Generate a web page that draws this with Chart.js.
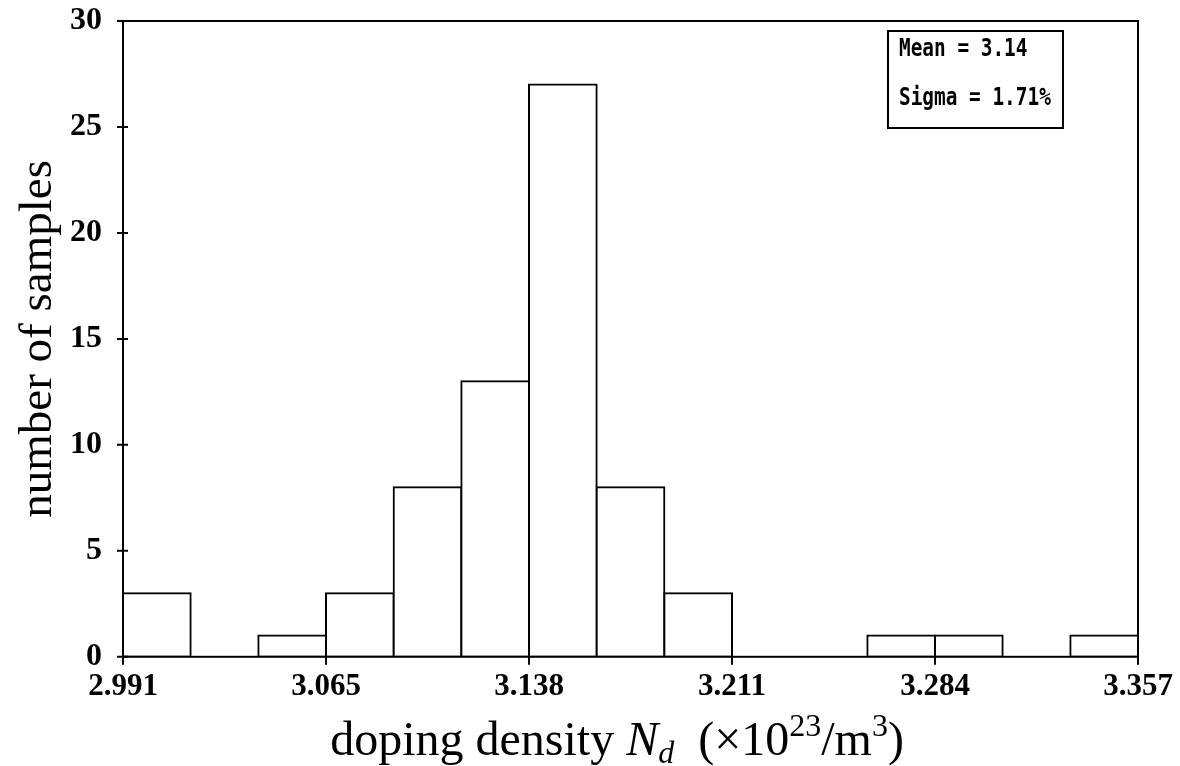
<!DOCTYPE html>
<html>
<head>
<meta charset="utf-8">
<script src="https://cdn.jsdelivr.net/npm/chart.js@4.4.0/dist/chart.umd.min.js"></script>
<style>
  html, body { margin: 0; padding: 0; background: #fff; }
  #wrap { width: 1180px; height: 766px; position: relative; }
</style>
</head>
<body>
<div id="wrap"><canvas id="myChart"></canvas></div>
<script>
// histogram counts, one per bin (15 bins between the first and last tick)
var binCounts = [3, 0, 1, 3, 8, 13, 27, 8, 3, 0, 0, 1, 1, 0, 1];
var xTickLabels = ["2.991", "3.065", "3.138", "3.211", "3.284", "3.357"];
var xMin = 2.991, xMax = 3.357;
var yMax = 30, yStep = 5;
var statLines = ["Mean = 3.14", "Sigma = 1.71%"];

var binWidth = (xMax - xMin) / binCounts.length;
var points = binCounts.map(function (c, i) {
  return { x: xMin + (i + 0.5) * binWidth, y: c };
});
var tickVals = xTickLabels.map(function (l, k) {
  return xMin + k * (xMax - xMin) / (xTickLabels.length - 1);
});

var serif = "'Liberation Serif', 'Times New Roman', serif";

/* box round the plot, ticks that cross the axes, stats box and x title */
var framePlugin = {
  id: "frame",
  afterDraw: function (chart) {
    var ctx = chart.ctx, a = chart.chartArea;
    var xs = chart.scales.x, ys = chart.scales.y;
    ctx.save();
    ctx.strokeStyle = "#000";
    ctx.lineWidth = 2;
    ctx.strokeRect(a.left, a.top, a.right - a.left, a.bottom - a.top);

    ctx.beginPath();
    for (var v = 0; v <= yMax; v += yStep) {
      var py = ys.getPixelForValue(v);
      ctx.moveTo(a.left - 6, py);
      ctx.lineTo(a.left + 5, py);
    }
    tickVals.forEach(function (tv) {
      var px = xs.getPixelForValue(tv);
      ctx.moveTo(px, a.bottom - 5);
      ctx.lineTo(px, a.bottom + 8);
    });
    ctx.stroke();

    // stats box
    ctx.lineWidth = 2;
    ctx.strokeRect(888, 31, 175, 97);
    ctx.fillStyle = "#000";
    ctx.font = "bold 20px 'DejaVu Sans Mono', monospace";
    ctx.textBaseline = "alphabetic";
    ctx.textAlign = "left";
    ctx.save();
    ctx.translate(899, 0);
    ctx.scale(0.97, 1.2);
    ctx.fillText(statLines[0], 0, 56 / 1.2);
    ctx.fillText(statLines[1], 0, 105 / 1.2);
    ctx.restore();

    // x axis title with sub/superscripts
    var parts = [
      { t: "doping density ", f: "48px " + serif, dy: 0 },
      { t: "N", f: "italic 48px " + serif, dy: 0 },
      { t: "d", f: "italic 32px " + serif, dy: 8 },
      { t: "  (\u00d710", f: "48px " + serif, dy: 0 },
      { t: "23", f: "32px " + serif, dy: -19 },
      { t: "/m", f: "48px " + serif, dy: 0 },
      { t: "3", f: "32px " + serif, dy: -19 },
      { t: ")", f: "48px " + serif, dy: 0 }
    ];
    var total = 0;
    parts.forEach(function (p) { ctx.font = p.f; p.w = ctx.measureText(p.t).width; total += p.w; });
    var x = 617 - total / 2;
    var base = 755;
    parts.forEach(function (p) {
      ctx.font = p.f;
      ctx.fillText(p.t, x, base + p.dy);
      x += p.w;
    });
    ctx.restore();
  }
};

var myChart = new Chart("myChart", {
  type: "bar",
  data: {
    datasets: [{
      data: points,
      backgroundColor: "#fff",
      borderColor: "#000",
      borderWidth: 2,
      borderSkipped: false,
      inflateAmount: 1,
      barPercentage: 1,
      categoryPercentage: 1
    }]
  },
  options: {
    responsive: true,
    maintainAspectRatio: false,
    animation: false,
    layout: { padding: { left: 10, right: 42, top: 21, bottom: 48 } },
    plugins: { legend: { display: false }, tooltip: { enabled: false } },
    scales: {
      x: {
        type: "linear",
        min: xMin,
        max: xMax,
        offset: false,
        grid: { display: false, drawTicks: false },
        border: { display: false },
        afterBuildTicks: function (axis) {
          axis.ticks = tickVals.map(function (v) { return { value: v }; });
        },
        afterFit: function (axis) { axis.paddingLeft = 0; axis.paddingRight = 0; },
        ticks: {
          autoSkip: false,
          maxRotation: 0,
          padding: 12,
          color: "#000",
          font: { family: serif, size: 31, weight: "bold" },
          callback: function (v, i) { return xTickLabels[i]; }
        }
      },
      y: {
        min: 0,
        max: yMax,
        grid: { display: false, drawTicks: false },
        border: { display: false },
        afterFit: function (axis) { axis.width = 113; axis.paddingTop = 0; axis.paddingBottom = 0; },
        ticks: {
          stepSize: yStep,
          padding: 21,
          color: "#000",
          font: { family: serif, size: 32, weight: "bold" }
        },
        title: {
          display: true,
          text: "number of samples",
          color: "#000",
          font: { family: serif, size: 47 },
          padding: { top: 0, bottom: 0 }
        }
      }
    }
  },
  plugins: [framePlugin]
});
</script>
</body>
</html>
